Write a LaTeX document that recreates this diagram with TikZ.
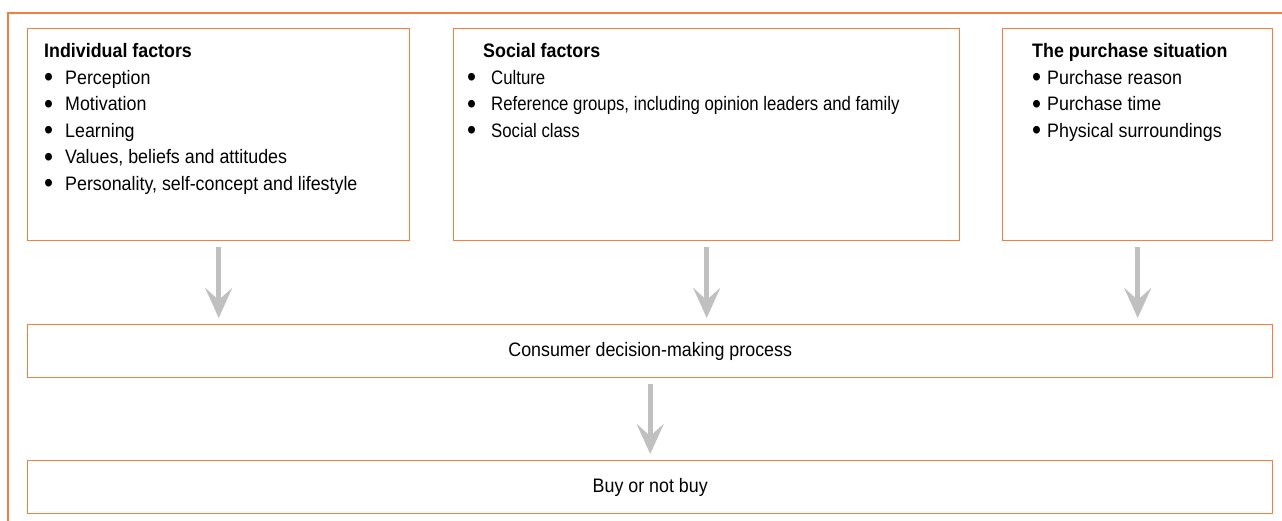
\documentclass[tikz,border=0pt]{standalone}
\usepackage{fontspec}
\setmainfont{Liberation Sans}[FakeStretch=0.915]
\newfontfamily\narrowfont{Liberation Sans}[FakeStretch=0.86]
\usetikzlibrary{positioning,arrows.meta}
\definecolor{frameorange}{RGB}{243,128,66}
\definecolor{arrowgray}{RGB}{192,192,192}
\newcommand{\bigbullet}{\raisebox{-2.6pt}{\fontsize{28}{0}\selectfont\textbullet}}

\begin{document}
\begin{tikzpicture}[x=1pt,y=-1pt,
box/.style={draw=frameorange,line width=1.4pt,inner sep=0pt,anchor=north west},
txt/.style={inner sep=0pt,align=left,font=\fontsize{19.5}{26.5}\selectfont},
down/.style={draw=arrowgray,line width=5pt,-{Stealth[length=30pt,width=27pt,inset=12pt]},shorten <=6pt,shorten >=6pt}]
\useasboundingbox (0,0) rectangle (1282,521);

% outer frame, open at right and bottom
\draw [frameorange,line width=1.4pt] (8,521) -- (8,13) -- (1282,13);

% the three groups of factors
\node [box,minimum width=382pt,minimum height=212pt] (ind) at (27,28) {};
\node [box,minimum width=506pt,minimum height=212pt] (soc) at (453,28) {};
\node [box,minimum width=270pt,minimum height=212pt] (sit) at (1002,28) {};

\node [txt,below right=15.5pt and 17pt of ind.north west] (indtext) {%
\textbf{Individual factors}\\
\makebox[21pt][l]{\bigbullet}Perception\\
\makebox[21pt][l]{\bigbullet}Motivation\\
\makebox[21pt][l]{\bigbullet}Learning\\
\makebox[21pt][l]{\bigbullet}Values, beliefs and attitudes\\
\makebox[21pt][l]{\bigbullet}Personality, self-concept and lifestyle};

\node [txt,below right=15.5pt and 14pt of soc.north west] (soctext) {%
\hspace*{16pt}\textbf{Social factors}\\
\makebox[24pt][l]{\bigbullet}\narrowfont Culture\\
\makebox[24pt][l]{\bigbullet}\narrowfont Reference groups, including opinion leaders and family\\
\makebox[24pt][l]{\bigbullet}\narrowfont Social class};

\node [txt,below right=15.5pt and 30pt of sit.north west] (sittext) {%
\textbf{The purchase situation}\\
\makebox[15pt][l]{\bigbullet}Purchase reason\\
\makebox[15pt][l]{\bigbullet}Purchase time\\
\makebox[15pt][l]{\bigbullet}Physical surroundings};

% decision process and outcome
\node [box,minimum width=1245pt,minimum height=53pt] (proc) at (27,324) {};
\node [txt] (proctext) at (proc.center) {Consumer decision-making process};
\node [box,minimum width=1245pt,minimum height=53pt] (buy) at (27,460) {};
\node [txt] (buytext) at (buy.center) {Buy or not buy};

\draw [down] (ind.south) -- (ind.south |- proc.north);
\draw [down] (soc.south) -- (soc.south |- proc.north);
\draw [down] (sit.south) -- (sit.south |- proc.north);
\draw [down] (proc.south) -- (buy.north);
\end{tikzpicture}
\end{document}
